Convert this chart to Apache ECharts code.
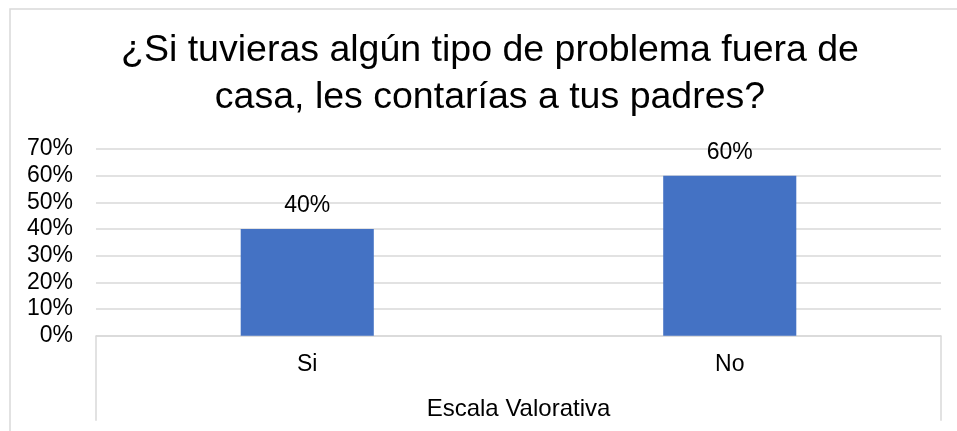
<!DOCTYPE html>
<html>
<head>
<meta charset="utf-8">
<script src="https://cdn.jsdelivr.net/npm/echarts@6/dist/echarts.min.js"></script>
<style>
  html, body { margin: 0; padding: 0; background: #fff; }
  #chart { width: 957px; height: 431px; }
</style>
</head>
<body>
<div id="chart"></div>
<script>
// datos de la encuesta
const categorias = ['Si', 'No'];
const valores = [0.40, 0.60];
const tituloTexto = '¿Si tuvieras algún tipo de problema fuera de\ncasa, les contarías a tus padres?';
const ejeNombre = 'Escala Valorativa';

const fuente = '"Liberation Sans", Arial, sans-serif';
const pct = v => Math.round(v * 100) + '%';

const chart = echarts.init(document.getElementById('chart'), null, { renderer: 'canvas' });

const option = {
  backgroundColor: '#fff',
  animation: false,
  textStyle: { fontFamily: fuente },
  title: {
    text: tituloTexto,
    left: 490,
    textAlign: 'center',
    top: 27,
    padding: 0,
    textStyle: {
      fontFamily: fuente,
      fontSize: 37.5,
      fontWeight: 'normal',
      color: '#000',
      lineHeight: 47
    }
  },
  // marco del gráfico
  graphic: [{
    type: 'rect',
    silent: true,
    shape: { x: 10, y: 9, width: 980, height: 460 },
    style: { fill: 'none', stroke: '#d9d9d9', lineWidth: 1.5 }
  }],
  grid: { left: 96, right: 16, top: 149, bottom: 95.3, containLabel: false },
  xAxis: {
    type: 'category',
    data: categorias,
    name: ejeNombre,
    nameLocation: 'middle',
    nameGap: 62,
    nameTextStyle: { fontFamily: fuente, fontSize: 24, color: '#000' },
    axisLine: { lineStyle: { color: '#d9d9d9', width: 1.5 } },
    axisTick: { show: true, interval: 1, length: 85, lineStyle: { color: '#d9d9d9', width: 1.5 } },
    axisLabel: { margin: 17, fontSize: 23, color: '#000', fontFamily: fuente }
  },
  yAxis: {
    type: 'value',
    min: 0,
    max: 0.7,
    interval: 0.1,
    axisLine: { show: false },
    axisTick: { show: false },
    axisLabel: { margin: 23, fontSize: 23, color: '#000', fontFamily: fuente, formatter: pct },
    splitLine: { lineStyle: { color: '#d9d9d9', width: 1.5 } }
  },
  series: [{
    type: 'bar',
    data: valores,
    barWidth: '31.5%',
    itemStyle: { color: '#4472C4' },
    label: {
      show: true,
      position: 'top',
      distance: 12,
      fontSize: 23,
      color: '#000',
      fontFamily: fuente,
      formatter: p => pct(p.value)
    }
  }]
};

chart.setOption(option);
</script>
</body>
</html>
